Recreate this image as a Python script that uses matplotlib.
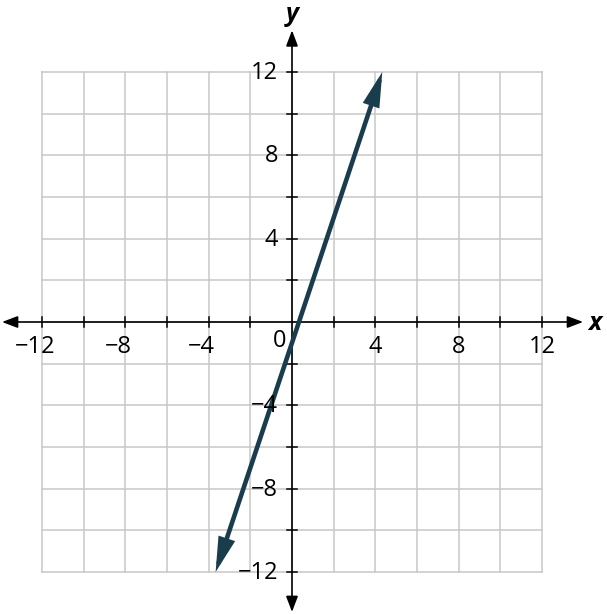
import matplotlib
matplotlib.use("Agg")
import matplotlib.pyplot as plt
import numpy as np

# data
line_x = [13/3, -11/3]          # endpoints of y = 3x - 1 inside the grid
line_y = [12, -12]
tick_vals = [-12, -8, -4, 4, 8, 12]
grid_vals = list(range(-12, 13, 2))

plt.rcParams['font.family'] = ['Open Sans', 'DejaVu Sans']

W, H = 607, 614
fig = plt.figure(figsize=(W/100, H/100), dpi=100)
ax = fig.add_axes([0, 0, 1, 1])
s = 500/24.0
x0, y0 = 292, 322
ax.set_xlim(-x0/s, (W-x0)/s)
ax.set_ylim((y0-H)/s, y0/s)
ax.axis('off')

gc = '#c8c8c8'
for g in grid_vals:
    ax.plot([g, g], [-12, 12], color=gc, lw=1.1, zorder=1)
    ax.plot([-12, 12], [g, g], color=gc, lw=1.1, zorder=1)

# axes with arrows
astyle = '<|-|>,head_length=0.95,head_width=0.36'
ax.annotate('', xy=(13.97, 0), xytext=(-13.92, 0),
            arrowprops=dict(arrowstyle=astyle, color='black', lw=1.2,
                            mutation_scale=10, shrinkA=0, shrinkB=0), zorder=3)
ax.annotate('', xy=(0, 14.0), xytext=(0, -13.92),
            arrowprops=dict(arrowstyle=astyle, color='black', lw=1.2,
                            mutation_scale=10, shrinkA=0, shrinkB=0), zorder=3)

tl = 0.22
for g in grid_vals:
    if g == 0:
        continue
    ax.plot([g, g], [-tl, tl], color='black', lw=1.1, zorder=3)
    ax.plot([-tl, tl], [g, g], color='black', lw=1.1, zorder=3)

fs = 17
for t in tick_vals:
    lab = str(t).replace('-', '\u2212')
    dx = -0.34 if t < 0 else 0
    ax.text(t + dx, -1.49, lab, ha='center', va='baseline', fontsize=fs, zorder=6)
    ax.text(-0.66, t - 0.05, lab, ha='right', va='center', fontsize=fs, zorder=6)
ax.text(-0.58, -1.2, '0', ha='center', va='baseline', fontsize=fs, zorder=6)

ax.text(14.55, -0.05, 'x', ha='center', va='center', fontsize=18,
        fontstyle='italic', fontweight='bold', zorder=6)
ax.text(0, 14.75, 'y', ha='center', va='center', fontsize=18,
        fontstyle='italic', fontweight='bold', zorder=6)

lc = '#1a3d4e'
ax.annotate('', xy=(line_x[0], line_y[0]), xytext=(line_x[1], line_y[1]),
            arrowprops=dict(arrowstyle='<|-|>,head_length=1.7,head_width=0.42',
                            color=lc, lw=3.3, joinstyle='miter',
                            mutation_scale=10, shrinkA=0, shrinkB=0), zorder=5)

fig.savefig('out.png', dpi=100)
